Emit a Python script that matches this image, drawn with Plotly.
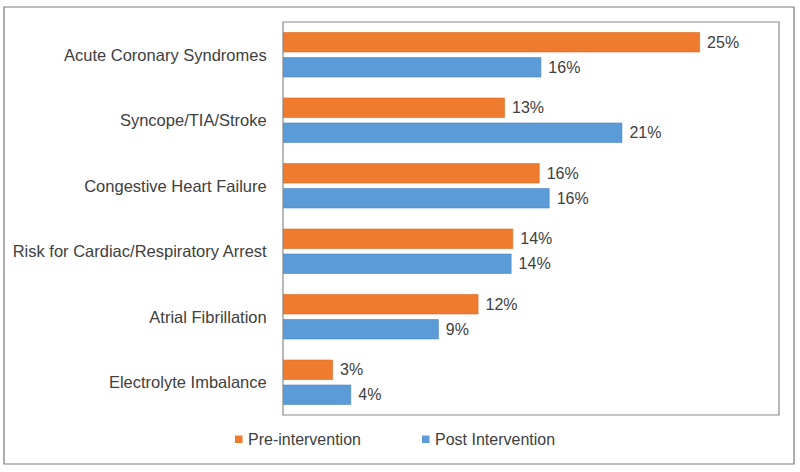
import plotly.graph_objects as go

categories = ["Acute Coronary Syndromes", "Syncope/TIA/Stroke", "Congestive Heart Failure",
              "Risk for Cardiac/Respiratory Arrest", "Atrial Fibrillation", "Electrolyte Imbalance"]
pre_values = [25.2, 13.4, 15.5, 13.9, 11.8, 3.0]
post_values = [15.6, 20.5, 16.1, 13.8, 9.4, 4.1]
pre_labels = ["25%", "13%", "16%", "14%", "12%", "3%"]
post_labels = ["16%", "21%", "16%", "14%", "9%", "4%"]
series_names = ["Pre-intervention", "Post Intervention"]
series_colors = ["#EF7B2F", "#5B9BD8"]
series_edges = ["#D96A22", "#4A86C2"]

FONT = "Liberation Sans, Arial, sans-serif"
TXT = "#404040"

# plot-area geometry in pixels (page coords)
L, R, T, B = 283, 779, 22, 415
PW, PH = R - L, B - T


def px(x):
    return (x - L) / PW


def py(y):
    return (B - y) / PH


fig = go.Figure()
for vals, labs, name, col, edge in zip([pre_values, post_values], [pre_labels, post_labels],
                                       series_names, series_colors, series_edges):
    fig.add_trace(go.Bar(
        y=categories, x=vals, orientation="h", name=name,
        marker=dict(color=col, line=dict(color=edge, width=0.6)),
        text=[" " + t for t in labs], textposition="outside", cliponaxis=False,
        textfont=dict(size=16, color=TXT, family=FONT),
    ))

shapes = [
    dict(type="rect", xref="paper", yref="paper", x0=0, x1=1, y0=0, y1=1,
         line=dict(color="#8A8A8A", width=1.2), layer="above"),
    dict(type="rect", xref="paper", yref="paper",
         x0=px(4), x1=px(794), y0=py(464), y1=py(7),
         line=dict(color="#7A7A7A", width=1.2), layer="above"),
]
annotations = []
legend_sq_x = [235, 422]
for sx, name, col in zip(legend_sq_x, series_names, series_colors):
    shapes.append(dict(type="rect", xref="paper", yref="paper",
                       x0=px(sx), x1=px(sx + 7.5), y0=py(443), y1=py(435.5),
                       fillcolor=col, line=dict(width=0)))
    annotations.append(dict(xref="paper", yref="paper", x=px(sx + 11), y=py(439),
                            xanchor="left", yanchor="middle", text=name, showarrow=False,
                            font=dict(size=16, color=TXT, family=FONT)))

fig.update_layout(
    width=800, height=472,
    margin=dict(l=L, r=800 - R, t=T, b=472 - B, pad=0),
    paper_bgcolor="white", plot_bgcolor="white",
    barmode="group", bargap=0.237, bargroupgap=0.22,
    font=dict(family=FONT, size=16, color=TXT),
    xaxis=dict(range=[0, 30], showticklabels=False, showgrid=False, zeroline=False,
               showline=False, ticks=""),
    yaxis=dict(autorange="reversed", showgrid=False, zeroline=False, showline=False,
               ticks="outside", ticklen=12, tickcolor="rgba(0,0,0,0)",
               tickfont=dict(size=16.5, color=TXT, family=FONT)),
    showlegend=False,
    shapes=shapes,
    annotations=annotations,
)

fig.write_html("out.html", config={"displayModeBar": False},
               post_script="document.body.style.margin='0px';")
